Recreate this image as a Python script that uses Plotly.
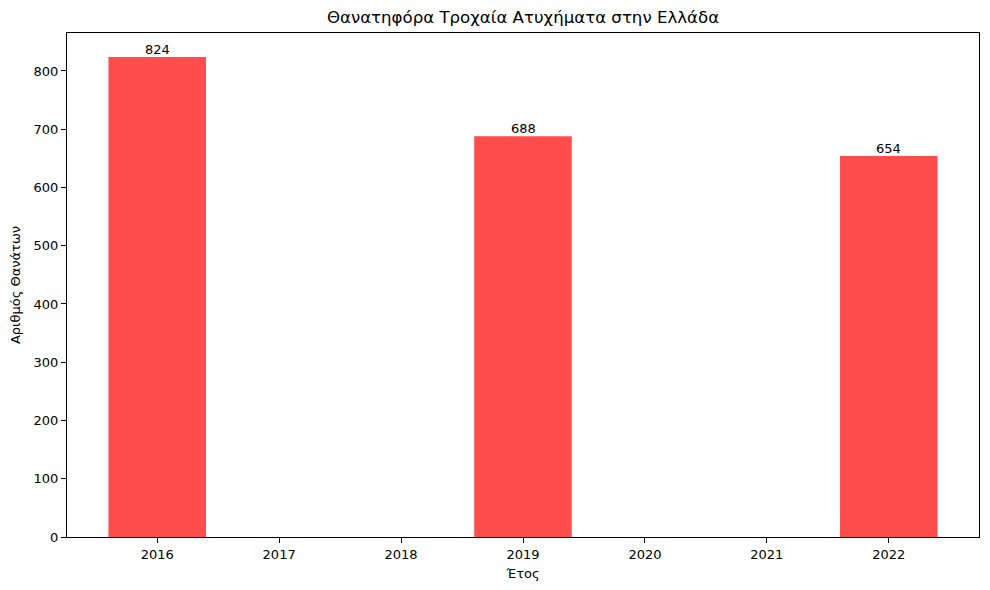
import plotly.graph_objects as go

# fatal road accidents in Greece (only years with data get a bar)
years = [2016, 2019, 2022]
deaths = [824, 688, 654]
tick_years = [2016, 2017, 2018, 2019, 2020, 2021, 2022]

FONT = "DejaVu Sans"

fig = go.Figure()
fig.add_trace(go.Bar(
    x=years, y=deaths,
    width=0.8,
    marker=dict(color="rgba(255,0,0,0.7)", line=dict(width=0)),
    hovertemplate="%{x}: %{y}<extra></extra>",
))

# value labels sitting right on top of each bar
for yr, val in zip(years, deaths):
    fig.add_annotation(
        x=yr, y=val, text=str(val),
        showarrow=False, yanchor="bottom", yshift=-2,
        font=dict(family=FONT, size=13, color="black"),
    )

axis_common = dict(
    showline=True, linecolor="black", linewidth=1, mirror=True,
    ticks="outside", ticklen=5, tickcolor="black",
    showgrid=False, zeroline=False,
    tickfont=dict(family=FONT, size=13, color="black"),
)

fig.update_layout(
    width=990, height=590,
    plot_bgcolor="white", paper_bgcolor="white",
    margin=dict(l=67, r=11, t=33, b=53),
    showlegend=False,
    title=dict(text="Θανατηφόρα Τροχαία Ατυχήματα στην Ελλάδα",
               x=0.5, xanchor="center", xref="paper",
               y=1 - 17 / 590, yanchor="middle",
               font=dict(family=FONT, size=16.6, color="black")),
    xaxis=dict(range=[2015.26, 2022.74], tickvals=tick_years,
               title=dict(text="Έτος", standoff=8,
                          font=dict(family=FONT, size=13, color="black")),
               **axis_common),
    yaxis=dict(range=[0, 865.2], dtick=100,
               title=dict(text="Αριθμός Θανάτων", standoff=10,
                          font=dict(family=FONT, size=13, color="black")),
               **axis_common),
)

# drop the default page margin so the figure sits at the window's corner
fig.write_html("out.html", config={"displayModeBar": False},
               post_script="document.body.style.margin='0';")
